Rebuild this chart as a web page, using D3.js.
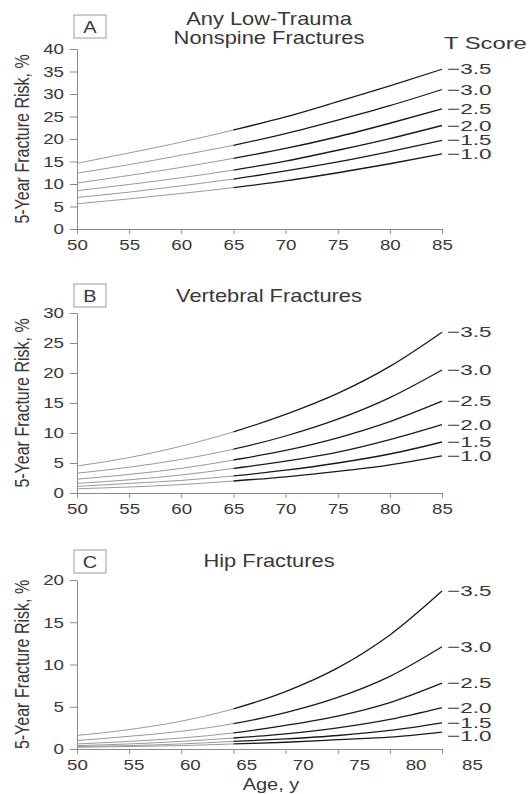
<!DOCTYPE html>
<html>
<head>
<meta charset="utf-8">
<script src="https://cdn.jsdelivr.net/npm/d3@7"></script>
<style>
  body { margin: 0; background: #fff; }
  text { font-family: "Liberation Sans", Arial, Helvetica, sans-serif; fill: #383838; }
</style>
</head>
<body>
<div id="chart"></div>
<script>
// Data
const ages = [50, 55, 60, 65, 70, 75, 80, 85];
const tScores = ["\u22123.5", "\u22123.0", "\u22122.5", "\u22122.0", "\u22121.5", "\u22121.0"];

// 5-year risk (%), one row per T score, one column per age
const nonspineRisk = [
  [14.6, 16.9, 19.3, 22.0, 24.9, 28.3, 31.8, 35.5],
  [12.4, 14.3, 16.4, 18.6, 21.2, 24.2, 27.4, 31.0],
  [10.2, 11.9, 13.7, 15.7, 17.9, 20.5, 23.5, 26.7],
  [ 8.5,  9.9, 11.4, 13.1, 15.1, 17.5, 20.1, 23.0],
  [ 7.0,  8.2,  9.6, 11.1, 12.9, 14.9, 17.2, 19.7],
  [ 5.6,  6.7,  7.9,  9.2, 10.7, 12.5, 14.5, 16.7]
];
const vertebralRisk = [
  [4.5, 5.9, 7.8, 10.2, 13.1, 16.6, 21.1, 26.8],
  [3.3, 4.3, 5.6,  7.3,  9.5, 12.3, 15.9, 20.5],
  [2.3, 3.1, 4.1,  5.5,  7.1,  9.2, 11.9, 15.3],
  [1.6, 2.2, 3.0,  4.1,  5.3,  6.8,  8.9, 11.4],
  [1.1, 1.6, 2.1,  2.85, 3.8,  5.0,  6.5,  8.5],
  [0.7, 1.0, 1.4,  2.0,  2.7,  3.6,  4.7,  6.2]
];
const hipRisk = [
  [1.6, 2.3, 3.3, 4.75, 6.8, 9.6, 13.5, 18.7],
  [1.0, 1.5, 2.1, 3.0,  4.3, 6.1,  8.6, 12.1],
  [0.6, 0.9, 1.3, 1.9,  2.8, 3.9,  5.5,  7.8],
  [0.4, 0.6, 0.9, 1.3,  1.8, 2.5,  3.5,  4.9],
  [0.3, 0.4, 0.6, 0.9,  1.2, 1.6,  2.2,  3.1],
  [0.2, 0.3, 0.4, 0.6,  0.8, 1.1,  1.4,  2.0]
];

const ageTicks = [50, 55, 60, 65, 70, 75, 80, 85];
const nonspineTicks = [0, 5, 10, 15, 20, 25, 30, 35, 40];
const vertebralTicks = [0, 5, 10, 15, 20, 25, 30];
const hipTicks = [0, 5, 10, 15, 20];

// the reference text is stretched sideways
const SX = 1.25;
const splitAge = 65;

const svg = d3.select('#chart')
  .append('svg')
  .attr('width', 530)
  .attr('height', 794);

const x = d3.scaleLinear().domain([50, 85]).range([77, 442]);

const panels = [
  {letter: 'A', title: ['Any Low-Trauma', 'Nonspine Fractures'], titleY: [25, 44], risk: nonspineRisk,
   ticks: nonspineTicks, top: 49, bottom: 229, boxY: 15, labelEnd: 442},
  {letter: 'B', title: ['Vertebral Fractures'], titleY: [302], risk: vertebralRisk,
   ticks: vertebralTicks, top: 313, bottom: 493, boxY: 284, labelEnd: 442},
  {letter: 'C', title: ['Hip Fractures'], titleY: [567], risk: hipRisk,
   ticks: hipTicks, top: 580, bottom: 749, boxY: 550, labelEnd: 472}
];

// Text helper with horizontal stretch
const addText = (g, str, tx, ty, size, anchor, sx) => g.append('text')
  .attr('transform', `translate(${tx},${ty}) scale(${sx || SX},1)`)
  .attr('text-anchor', anchor || 'start')
  .style('font-size', size + 'px')
  .text(str);

// Clip paths for gray (younger) and black (older) parts
const defs = svg.append('defs');
defs.append('clipPath').attr('id', 'clip-early')
  .append('rect').attr('x', 0).attr('y', 0).attr('width', x(splitAge)).attr('height', 794);
defs.append('clipPath').attr('id', 'clip-late')
  .append('rect').attr('x', x(splitAge)).attr('y', 0).attr('width', 530).attr('height', 794);

panels.forEach(p => {
  const g = svg.append('g').attr('class', 'panel');
  const y = d3.scaleLinear().domain([0, d3.max(p.ticks)]).range([p.bottom, p.top]);

  // Panel letter box
  g.append('rect')
    .attr('x', 74).attr('y', p.boxY)
    .attr('width', 32).attr('height', 23)
    .attr('fill', 'none').attr('stroke', '#999').attr('stroke-width', 1);
  addText(g, p.letter, 90, p.boxY + 18, 16, 'middle');

  // Title
  p.title.forEach((t, i) => addText(g, t, 269, p.titleY[i], 17.5, 'middle'));

  // Y axis
  const yAxis = g.append('g')
    .attr('transform', `translate(${x(50)},0)`)
    .call(d3.axisLeft(y).tickValues(p.ticks).tickSize(7).tickSizeOuter(0));
  yAxis.selectAll('text')
    .attr('x', -13 / SX)
    .attr('transform', `scale(${SX},1)`)
    .style('font-size', '15px').attr('fill', '#383838');

  // X axis
  const xAxis = g.append('g')
    .attr('transform', `translate(0,${p.bottom})`)
    .call(d3.axisBottom(x).tickValues(ageTicks).tickSize(5).tickSizeOuter(0).tickPadding(5));
  const xLab = d3.scaleLinear().domain([50, 85]).range([77, p.labelEnd]);
  xAxis.selectAll('text')
    .attr('x', d => (xLab(d) - x(d)) / SX)
    .attr('transform', `scale(${SX},1)`)
    .style('font-size', '15px').attr('fill', '#383838');

  [yAxis, xAxis].forEach(a => {
    a.select('.domain').attr('stroke', '#8a8a8a');
    a.selectAll('.tick line').attr('stroke', '#8a8a8a');
  });

  // Y axis title
  g.append('text')
    .attr('transform', `translate(29,${(p.top + p.bottom) / 2}) scale(${SX},1) rotate(-90)`)
    .attr('text-anchor', 'middle')
    .style('font-size', '16px')
    .text('5-Year Fracture Risk, %');

  // Curves
  const line = d3.line()
    .x(d => x(d.age))
    .y(d => y(d.v))
    .curve(d3.curveMonotoneX);

  const labelY = [];
  p.risk.forEach((row, i) => {
    const pts = ages.map((a, j) => ({age: a, v: row[j]}));
    g.append('path')
      .attr('d', line(pts))
      .attr('clip-path', 'url(#clip-early)')
      .attr('fill', 'none').attr('stroke', '#999').attr('stroke-width', 1);
    g.append('path')
      .attr('d', line(pts))
      .attr('clip-path', 'url(#clip-late)')
      .attr('fill', 'none').attr('stroke', '#1a1a1a').attr('stroke-width', 1.3);

    // T score label at the line end, nudged down if too close to the one above
    let ly = y(row[row.length - 1]) + 5;
    if (i > 0) ly = Math.max(ly, labelY[i - 1] + 13.5);
    labelY.push(ly);
    addText(g, tScores[i], 447, ly, 15, 'start', 1.5);
  });
});

// Legend heading and x axis title
addText(svg, 'T Score', 444, 49, 17, 'start', 1.4);
addText(svg, 'Age, y', 271, 790, 16, 'middle');
</script>
</body>
</html>
